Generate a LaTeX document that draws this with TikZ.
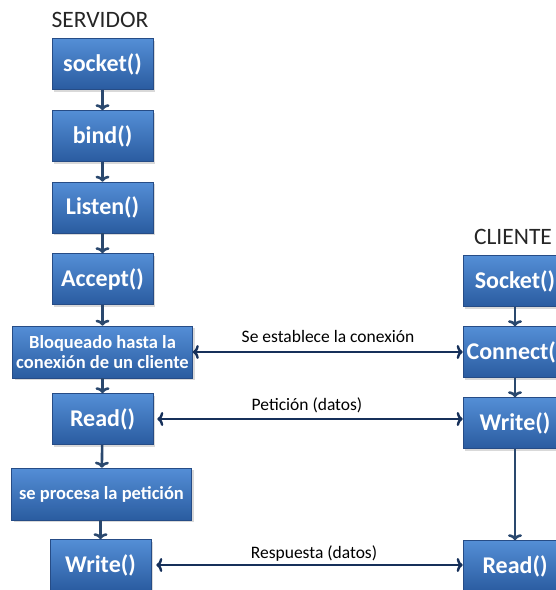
\documentclass[tikz,border=0pt]{standalone}
\usepackage{fontspec}
\setmainfont{Carlito}
\usetikzlibrary{arrows.meta,shadows}

\begin{document}
\begin{tikzpicture}[x=1pt,y=-1pt]
  \definecolor{bxtop}{RGB}{84,142,214}
  \definecolor{bxbot}{RGB}{42,92,160}
  \definecolor{bxline}{RGB}{38,76,134}
  \definecolor{arrnavy}{RGB}{22,48,90}
  \definecolor{arrslate}{RGB}{42,72,110}
  \tikzset{
    box/.style={draw=bxline,line width=0.6pt,top color=bxtop,bottom color=bxbot,
      text=white,font=\fontsize{24}{26}\selectfont\bfseries,align=center,
      minimum width=101pt,minimum height=51pt,inner sep=0pt,
      drop shadow={shadow xshift=2pt,shadow yshift=-2pt,opacity=0.3}},
    widebox/.style={box,font=\fontsize{18.5}{20}\selectfont\bfseries,minimum width=180pt,minimum height=52pt},
    flow/.style={arrslate,line width=2.6pt,-{To[length=6pt,width=14pt]}},
    link/.style={arrnavy,line width=2.4pt,{To[length=6pt,width=14pt]}-{To[length=6pt,width=14pt]}},
    lbl/.style={font=\fontsize{17.5}{19}\selectfont,text=black,inner sep=0pt},
    side/.style={font=\fontsize{23.5}{25}\selectfont,text=black!85,inner sep=0pt}
  }
  \useasboundingbox (0,0) rectangle (556,590);
  \clip (0,0) rectangle (556,590);
  % servidor
  \node[side] (tserv) at (100,20) {SERVIDOR};
  \node[box] (socket) at (102.5,64) {socket()};
  \node[box] (bind) at (102.5,136) {bind()};
  \node[box] (listen) at (102.5,207.5) {Listen()};
  \node[box] (accept) at (102.5,279) {Accept()};
  \node[widebox] (bloqueado) at (102.5,352) {Bloqueado hasta la\\conexión de un cliente};
  \node[box] (sread) at (102.5,419) {Read()};
  \node[widebox] (procesa) at (101.5,494) {se procesa la petición};
  \node[box] (swrite) at (100.5,565) {Write()};
  % cliente
  \node[side] (tcli) at (513,237) {CLIENTE};
  \node[box,minimum width=104pt] (csocket) at (515,281) {Socket()};
  \node[box,minimum width=104pt] (connect) at (515,352) {Connect()};
  \node[box,minimum width=104pt] (cwrite) at (515,423) {Write()};
  \node[box,minimum width=104pt] (cread) at (515,566) {Read()};
  % flujo
  \draw[flow] (socket) -- (bind);
  \draw[flow] (bind) -- (listen);
  \draw[flow] (listen) -- (accept);
  \draw[flow] (accept) -- (bloqueado);
  \draw[flow] (bloqueado) -- (sread);
  \draw[flow] (sread) -- (procesa);
  \draw[flow] (procesa.south -| swrite.north) -- (swrite);
  \draw[flow] (csocket) -- (connect);
  \draw[flow] (connect) -- (cwrite);
  \draw[flow] (cwrite) -- (cread);
  % mensajes
  \draw[link] (bloqueado.east) -- (connect.west);
  \node[lbl] (lconex) at (328,336) {Se establece la conexión};
  \draw[link,shorten <=4pt] (sread.east) -- (sread.east -| cwrite.west);
  \node[lbl] (lpet) at (307,405) {Petición (datos)};
  \draw[link,shorten <=5pt] (swrite.east) -- (swrite.east -| cread.west);
  \node[lbl] (lresp) at (314,554) {Respuesta (datos)};
\end{tikzpicture}
\end{document}
